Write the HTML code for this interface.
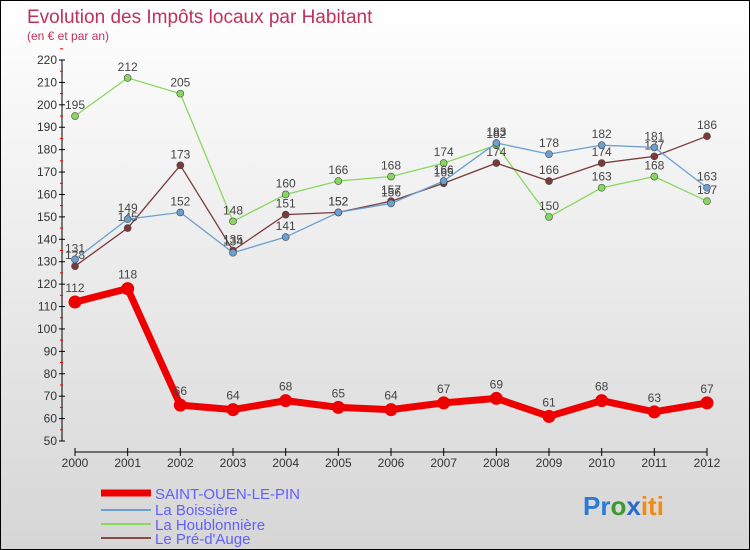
<!DOCTYPE html>
<html><head><meta charset="utf-8"><style>
body{margin:0}
#c{width:748px;height:548px;border:1px solid #000;background:linear-gradient(#ffffff,#d6d6d6);position:relative;font-family:"Liberation Sans",sans-serif;overflow:hidden}
</style></head><body>
<div id="c">
<svg id="s" width="748" height="548" xmlns="http://www.w3.org/2000/svg">
<text x="26" y="22" font-size="19" fill="#c0305a">Evolution des Impôts locaux par Habitant</text>
<text x="26" y="39" font-size="12" fill="#c0305a">(en € et par an)</text>
<g id="axes"></g><g id="series"></g>
<g>
<line x1="100" y1="492" x2="150" y2="492" stroke="#e00" stroke-width="7"/>
<text x="154" y="498" font-size="15" fill="#6060ff">SAINT-OUEN-LE-PIN</text>
<line x1="100" y1="509" x2="150" y2="509" stroke="#6a9fcf" stroke-width="2"/>
<text x="154" y="514" font-size="15" fill="#6060ff">La Boissière</text>
<line x1="100" y1="523" x2="150" y2="523" stroke="#88d860" stroke-width="2"/>
<text x="154" y="529" font-size="15" fill="#6060ff">La Houblonnière</text>
<line x1="100" y1="537" x2="150" y2="537" stroke="#8a4a4a" stroke-width="2"/>
<text x="154" y="543" font-size="15" fill="#6060ff">Le Pré-d'Auge</text>
</g>
<text x="582" y="514" font-size="26" font-weight="bold"><tspan fill="#2a7bd8">Pr</tspan><tspan fill="#3a9a30">o</tspan><tspan fill="#2a6ad0">x</tspan><tspan fill="#f08a10">iti</tspan></text>
</svg>
</div>
<script>
const years=[2000,2001,2002,2003,2004,2005,2006,2007,2008,2009,2010,2011,2012];
const yTicks=[50,60,70,80,90,100,110,120,130,140,150,160,170,180,190,200,210,220];
const saintOuen=[112,118,66,64,68,65,64,67,69,61,68,63,67];
const boissiere=[131,149,152,134,141,152,156,166,183,178,182,181,163];
const houblonniere=[195,212,205,148,160,166,168,174,182,150,163,168,157];
const preDAuge=[128,145,173,135,151,152,157,165,174,166,174,177,186];
const NS="http://www.w3.org/2000/svg";
function X(i){return 74+i*(632/12);}
function Y(v){return 440-(v-50)*(381/170);}
function mk(t,a,p){const e=document.createElementNS(NS,t);for(const k in a)e.setAttribute(k,a[k]);p.appendChild(e);return e;}
const ax=document.getElementById('axes');
let l=mk('line',{x1:61,y1:Y(220),x2:61,y2:Y(50),stroke:'#000'},ax);


yTicks.forEach(v=>{
 mk('line',{x1:58,y1:Y(v),x2:64,y2:Y(v),stroke:'#000'},ax);
 mk('line',{x1:59,y1:Y(v+5),x2:62,y2:Y(v+5),stroke:'#e00'},ax);
 const t=mk('text',{x:56,y:Y(v)+4,'font-size':12,'text-anchor':'end',fill:'#333'},ax);t.textContent=v;
 
 
});
l=mk('line',{x1:X(0),y1:451,x2:X(12),y2:451,stroke:'#000'},ax);


years.forEach((y,i)=>{
 mk('line',{x1:X(i),y1:447,x2:X(i),y2:455,stroke:'#000'},ax);
 const t=mk('text',{x:X(i),y:466,'font-size':12,'text-anchor':'middle',fill:'#333'},ax);t.textContent=y;
 
 
});
const sg=document.getElementById('series');
function draw(vals,color,w,r,name){
 const g=mk('g',{},sg);
 
 
 const p=mk('polyline',{points:vals.map((v,i)=>X(i)+','+Y(v)).join(' '),fill:'none',stroke:color,'stroke-width':w},g);
 
 
 vals.forEach((v,i)=>{
  const c=mk('circle',{cx:X(i),cy:Y(v),r:r,fill:color,stroke:'#444','stroke-width':w>3?0:0.6},g);
  
  
  const t=mk('text',{x:X(i),y:Y(v)-(w>3?10:7),'font-size':12,'text-anchor':'middle',fill:'#444'},g);t.textContent=v;
  
  
 });
}
draw(houblonniere,'#88d860',1.3,3.5,'series-houblonniere');
draw(preDAuge,'#7a3a3a',1.3,3.5,'series-pre-d-auge');
draw(boissiere,'#6a9fcf',1.3,3.5,'series-boissiere');
draw(saintOuen,'#ee0000',7,6.5,'series-saint-ouen');
</script>
</body></html>
